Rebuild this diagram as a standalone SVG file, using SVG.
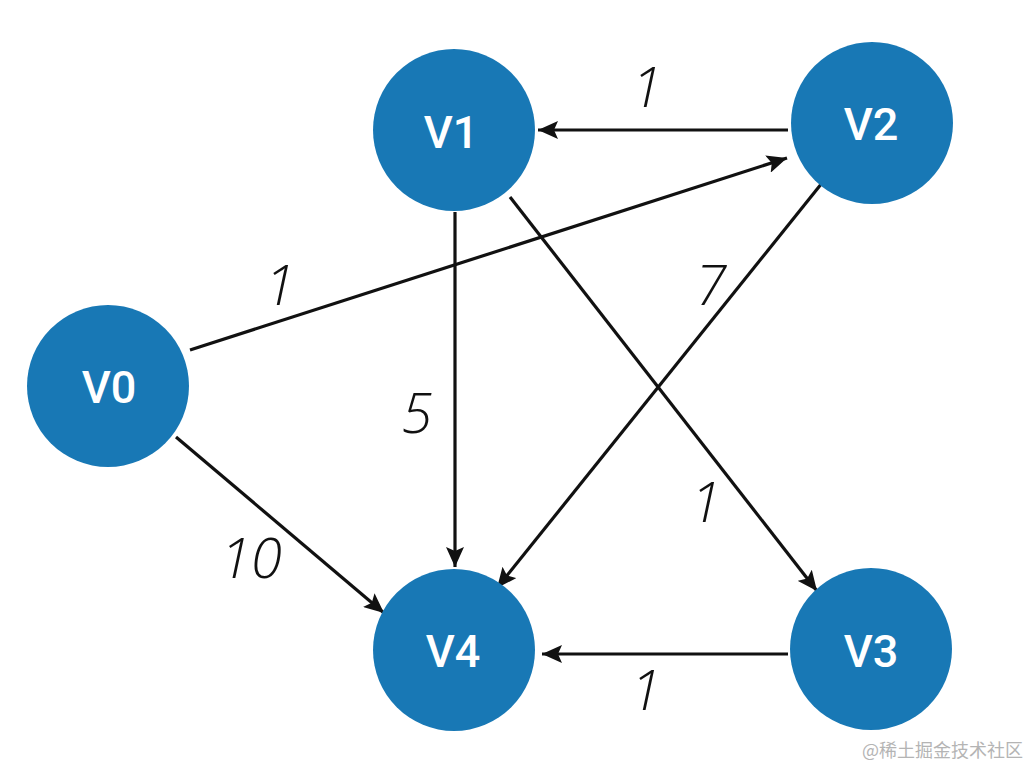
<svg xmlns="http://www.w3.org/2000/svg" width="1028" height="768" viewBox="0 0 1028 768">
  <defs>
    <marker id="arrow" markerUnits="userSpaceOnUse" markerWidth="22" markerHeight="18" refX="20" refY="9" orient="auto">
      <path d="M0,0 L20,9 L0,18 L4,9 Z" fill="#111"/>
    </marker>
    <style>
      .node { fill: #1878b5; }
      .nlabel { font-family: Roboto, "Liberation Sans", Arial, sans-serif; font-size: 45px; font-weight: 500; fill: #ffffff; text-anchor: middle; }
      .edge { stroke: #111; stroke-width: 3.2; fill: none; marker-end: url(#arrow); }
      .elabel { font-family: "Open Sans", "Liberation Sans", sans-serif; font-size: 56px; font-weight: 300; font-style: italic; fill: #111; text-anchor: middle; }
      .wm { font-family: "Noto Sans CJK SC", sans-serif; font-size: 18px; fill: #b4b4b4; }
    </style>
  </defs>
  <rect width="1028" height="768" fill="#ffffff"/>
  <g id="connectors">
    <line class="edge" x1="788" y1="130" x2="538" y2="130"/>
    <line class="edge" x1="190" y1="350" x2="787" y2="158"/>
    <line class="edge" x1="455" y1="212" x2="455" y2="567"/>
    <line class="edge" x1="510" y1="197" x2="817" y2="591"/>
    <line class="edge" x1="822" y1="183" x2="497" y2="588"/>
    <line class="edge" x1="176" y1="437" x2="384" y2="613"/>
    <line class="edge" x1="788" y1="654" x2="542" y2="654"/>
    <text class="elabel" x="647" y="107">1</text>
    <text class="elabel" x="280" y="305">1</text>
    <text class="elabel" x="711" y="305">7</text>
    <text class="elabel" x="417" y="433">5</text>
    <text class="elabel" x="706" y="522">1</text>
    <text class="elabel" x="251" y="578">10</text>
    <text class="elabel" x="646" y="710">1</text>
  </g>
  <g id="V0">
    <circle class="node" cx="108" cy="386" r="81"/>
    <text class="nlabel" x="109" y="403">V0</text>
  </g>
  <g id="V1">
    <circle class="node" cx="454" cy="130" r="81"/>
    <text class="nlabel" x="451" y="148">V1</text>
  </g>
  <g id="V2">
    <circle class="node" cx="872" cy="123" r="81"/>
    <text class="nlabel" x="871" y="140">V2</text>
  </g>
  <g id="V3">
    <circle class="node" cx="871" cy="649" r="81"/>
    <text class="nlabel" x="871" y="667">V3</text>
  </g>
  <g id="V4">
    <circle class="node" cx="454" cy="650" r="81"/>
    <text class="nlabel" x="453" y="667">V4</text>
  </g>
  <text class="wm" x="862" y="757">@稀土掘金技术社区</text>
</svg>
